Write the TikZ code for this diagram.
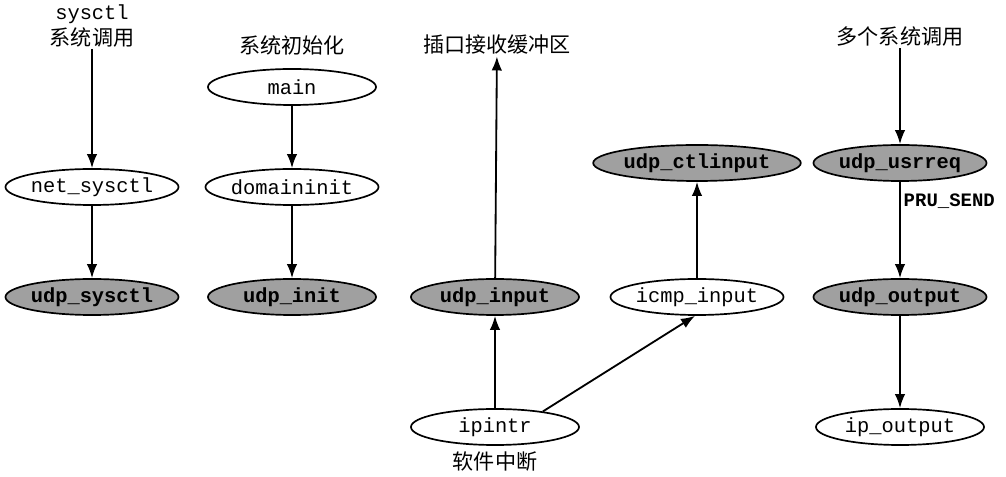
\documentclass[tikz,border=0pt]{standalone}
\usepackage{fontspec}
\setmonofont{Liberation Mono}
\newfontfamily\cjk{Noto Sans CJK SC}
\usetikzlibrary{arrows.meta,positioning,shapes.geometric}
\definecolor{fngray}{RGB}{160,160,160}

\begin{document}
\begin{tikzpicture}[
    x=0.025cm,y=-0.025cm,
    fn/.style={ellipse,draw,line width=1.2pt,minimum width=4.2cm,minimum height=0.9cm,
               inner sep=0pt,font=\ttfamily\fontsize{14.5}{16}\selectfont},
    udpfn/.style={fn,fill=fngray,font=\ttfamily\bfseries\fontsize{14.5}{16}\selectfont},
    lbl/.style={align=center,inner sep=1pt,font=\cjk\fontsize{15}{18.5}\selectfont},
    arr/.style={-{Latex[length=10pt,width=7.5pt]},line width=1.3pt},
  ]
    \useasboundingbox (0,0) rectangle (1006,477);
    % sysctl column
    \node[lbl] (sysctlcall) at (92,26) {{\ttfamily\fontsize{14.5}{15}\selectfont sysctl}\\系统调用};
    \node[fn] (netsysctl) at (92,187) {net\_sysctl};
    \node[udpfn] (udpsysctl) at (92,297) {udp\_sysctl};
    % initialisation column
    \node[lbl] (sysinit) at (292,45) {系统初始化};
    \node[fn] (main) at (292,87) {main};
    \node[fn] (domaininit) at (292,187) {domaininit};
    \node[udpfn] (udpinit) at (292,297) {udp\_init};
    % input column
    \node[lbl] (sockbuf) at (497,45) {插口接收缓冲区};
    \node[udpfn] (udpinput) at (495,297) {udp\_input};
    \node[fn] (ipintr) at (495,427) {ipintr};
    \node[lbl] (softint) at (495,462) {软件中断};
    \node[udpfn] (udpctlinput) at (697,163) {udp\_ctlinput};
    \node[fn] (icmpinput) at (697,297) {icmp\_input};
    % output column
    \node[lbl] (syscalls) at (900,37) {多个系统调用};
    \node[udpfn] (udpusrreq) at (900,163) {udp\_usrreq};
    \node[udpfn] (udpoutput) at (900,297) {udp\_output};
    \node[fn] (ipoutput) at (900,427) {ip\_output};

    \draw[arr] (sysctlcall) -- (netsysctl);
    \draw[arr] (netsysctl) -- (udpsysctl);
    \draw[arr] (main) -- (domaininit);
    \draw[arr] (domaininit) -- (udpinit);
    \draw[arr] (udpinput) -- (sockbuf);
    \draw[arr] (ipintr) -- (udpinput);
    \draw[arr] (ipintr.18) -- (icmpinput.-96);
    \draw[arr] (icmpinput) -- (udpctlinput);
    \draw[arr] (syscalls) -- (udpusrreq);
    \draw[arr] (udpusrreq) -- node[pos=0.2,right,inner sep=2pt,
      font=\ttfamily\bfseries\fontsize{13.5}{15}\selectfont]{PRU\_SEND} (udpoutput);
    \draw[arr] (udpoutput) -- (ipoutput);
  \end{tikzpicture}
\end{document}
